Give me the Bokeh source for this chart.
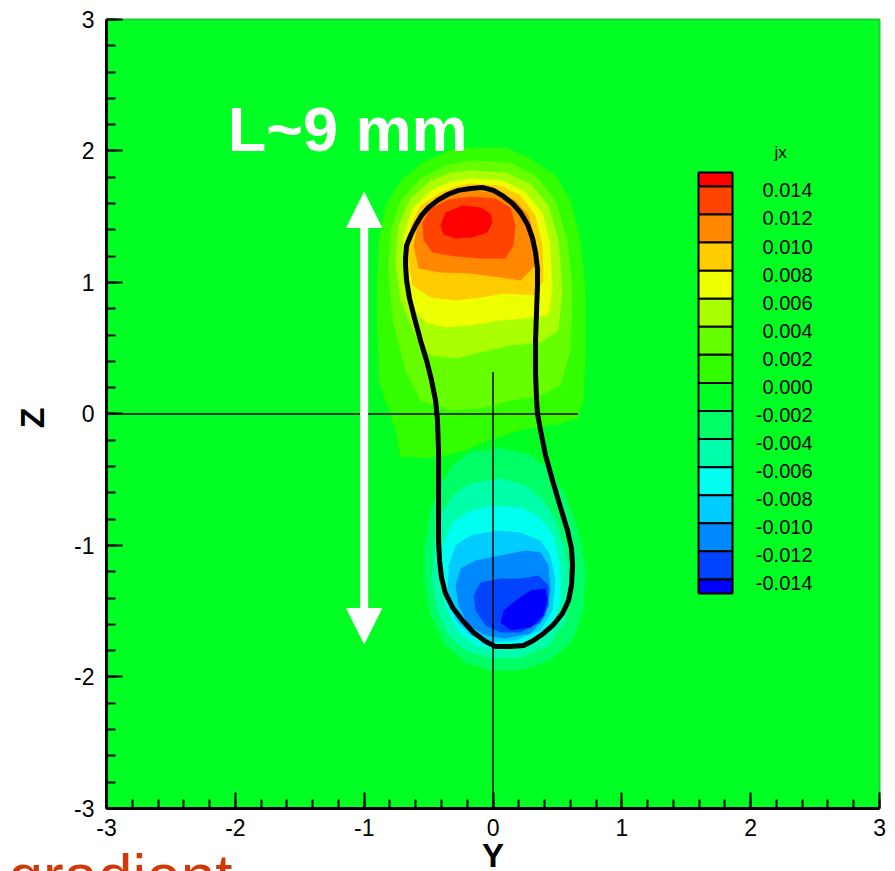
from bokeh.plotting import figure
from bokeh.models import Range1d, SingleIntervalTicker, Label, Arrow, NormalHead, PrintfTickFormatter
from bokeh.core.properties import value
from bokeh.embed import file_html
from bokeh.resources import INLINE

# ---------------- data ----------------
# contour levels of jx (colour-bar boundaries, top to bottom)
levels = [0.014, 0.012, 0.010, 0.008, 0.006, 0.004, 0.002, 0.000,
          -0.002, -0.004, -0.006, -0.008, -0.010, -0.012, -0.014]
level_labels = ["0.014", "0.012", "0.010", "0.008", "0.006", "0.004", "0.002", "0.000",
                "-0.002", "-0.004", "-0.006", "-0.008", "-0.010", "-0.012", "-0.014"]
# 16 colour bands, from "above 0.014" down to "below -0.014"
band_colors = ["#ff0000", "#ff4400", "#ff8800", "#ffcc00", "#eeff00", "#aaff00",
               "#66ff00", "#33ff00", "#00ff22", "#00ff66", "#00ffaa", "#00ffee",
               "#00ccff", "#0088ff", "#0044ff", "#0000ff"]

# axis extent and tick labels
axis_min, axis_max = -3, 3
x_label = "Y"
y_label = "Z"
cbar_title = "jx"

# regions where jx > level (upper lobe), levels 0.000 .. 0.014
pos_levels = [0.000, 0.002, 0.004, 0.006, 0.008, 0.010, 0.012, 0.014]
pos_y = [
    [-0.175, 0.097, 0.291, 0.485, 0.602, 0.679, 0.718, 0.718, 0.702, 0.656, 0.485, 0.213, -0.019, -0.252, -0.485, -0.718, -0.757, -0.889, -0.904, -0.889, -0.834, -0.718, -0.524, -0.330],
    [-0.175, 0.136, 0.330, 0.485, 0.578, 0.617, 0.602, 0.524, 0.369, 0.136, -0.097, -0.330, -0.563, -0.679, -0.780, -0.811, -0.796, -0.718, -0.563, -0.369],
    [-0.175, 0.097, 0.291, 0.431, 0.508, 0.539, 0.508, 0.369, 0.136, -0.097, -0.291, -0.485, -0.602, -0.718, -0.757, -0.733, -0.640, -0.485, -0.330],
    [-0.175, 0.082, 0.252, 0.384, 0.446, 0.462, 0.431, 0.252, 0.058, -0.175, -0.369, -0.524, -0.640, -0.695, -0.695, -0.625, -0.485, -0.330],
    [-0.175, 0.058, 0.213, 0.330, 0.384, 0.392, 0.330, 0.097, -0.097, -0.291, -0.485, -0.625, -0.664, -0.640, -0.563, -0.408, -0.291],
    [-0.175, 0.035, 0.175, 0.276, 0.330, 0.330, 0.213, 0.058, -0.175, -0.408, -0.578, -0.617, -0.578, -0.485, -0.345],
    [-0.175, 0.019, 0.136, 0.175, 0.159, 0.097, -0.097, -0.291, -0.470, -0.539, -0.547, -0.485, -0.345],
    [-0.237, -0.097, -0.019, -0.004, -0.043, -0.159, -0.291, -0.384, -0.408, -0.369],
]
pos_z = [
    [2.027, 2.027, 1.943, 1.814, 1.624, 1.319, 0.939, 0.483, 0.103, -0.034, -0.084, -0.122, -0.198, -0.289, -0.335, -0.327, -0.122, 0.255, 0.863, 1.319, 1.586, 1.776, 1.928, 2.004],
    [1.928, 1.913, 1.814, 1.624, 1.319, 0.939, 0.483, 0.217, 0.141, 0.103, 0.042, 0.027, 0.103, 0.331, 0.711, 1.091, 1.395, 1.624, 1.791, 1.890],
    [1.852, 1.837, 1.753, 1.586, 1.319, 0.939, 0.635, 0.544, 0.521, 0.468, 0.422, 0.445, 0.597, 0.863, 1.167, 1.433, 1.639, 1.776, 1.837],
    [1.791, 1.776, 1.684, 1.532, 1.281, 0.939, 0.749, 0.726, 0.711, 0.673, 0.658, 0.696, 0.825, 1.091, 1.357, 1.563, 1.700, 1.768],
    [1.753, 1.738, 1.662, 1.510, 1.281, 1.015, 0.901, 0.916, 0.886, 0.863, 0.886, 0.977, 1.205, 1.433, 1.586, 1.684, 1.730],
    [1.700, 1.684, 1.624, 1.510, 1.319, 1.129, 1.015, 1.038, 1.068, 1.076, 1.106, 1.281, 1.471, 1.586, 1.662],
    [1.654, 1.639, 1.570, 1.433, 1.281, 1.183, 1.183, 1.198, 1.228, 1.319, 1.456, 1.563, 1.631],
    [1.586, 1.570, 1.525, 1.456, 1.380, 1.342, 1.335, 1.365, 1.433, 1.532],
]

# regions where jx < level (lower lobe), levels -0.002 .. -0.014
neg_levels = [-0.002, -0.004, -0.006, -0.008, -0.010, -0.012, -0.014]
neg_y = [
    [-0.175, 0.058, 0.291, 0.446, 0.563, 0.664, 0.718, 0.702, 0.617, 0.446, 0.213, -0.019, -0.213, -0.369, -0.485, -0.532, -0.532, -0.485, -0.408, -0.314],
    [-0.175, 0.058, 0.252, 0.392, 0.485, 0.563, 0.602, 0.563, 0.431, 0.213, -0.019, -0.213, -0.345, -0.431, -0.470, -0.462, -0.408, -0.314],
    [-0.175, 0.019, 0.213, 0.369, 0.469, 0.524, 0.524, 0.462, 0.291, 0.058, -0.136, -0.276, -0.369, -0.408, -0.392, -0.314],
    [-0.175, 0.019, 0.213, 0.369, 0.446, 0.485, 0.462, 0.369, 0.175, -0.019, -0.175, -0.291, -0.353, -0.345, -0.291],
    [-0.136, 0.058, 0.252, 0.369, 0.431, 0.446, 0.408, 0.291, 0.097, -0.058, -0.190, -0.268, -0.291, -0.252],
    [-0.097, 0.058, 0.213, 0.353, 0.431, 0.431, 0.369, 0.213, 0.058, -0.058, -0.136, -0.151],
    [0.175, 0.291, 0.408, 0.423, 0.392, 0.291, 0.136, 0.058, 0.082],
]
neg_z = [
    [-0.289, -0.259, -0.312, -0.430, -0.620, -0.886, -1.190, -1.494, -1.722, -1.875, -1.951, -1.951, -1.890, -1.760, -1.532, -1.266, -1.000, -0.734, -0.544, -0.388],
    [-0.529, -0.490, -0.544, -0.658, -0.810, -1.038, -1.304, -1.570, -1.760, -1.852, -1.859, -1.798, -1.684, -1.494, -1.266, -1.000, -0.772, -0.620],
    [-0.734, -0.696, -0.711, -0.787, -0.924, -1.152, -1.418, -1.631, -1.760, -1.798, -1.760, -1.646, -1.456, -1.228, -1.000, -0.825],
    [-0.924, -0.886, -0.901, -0.962, -1.076, -1.266, -1.494, -1.646, -1.722, -1.737, -1.684, -1.570, -1.380, -1.152, -1.000],
    [-1.114, -1.076, -1.038, -1.053, -1.152, -1.342, -1.532, -1.669, -1.707, -1.684, -1.608, -1.456, -1.304, -1.175],
    [-1.281, -1.251, -1.251, -1.228, -1.304, -1.456, -1.586, -1.662, -1.662, -1.608, -1.494, -1.380],
    [-1.418, -1.342, -1.327, -1.418, -1.532, -1.624, -1.646, -1.586, -1.494],
]

# black outline of the object (Y, Z)
outline_y = [-0.679, -0.671, -0.640, -0.602, -0.555, -0.501, -0.431, -0.353, -0.268, -0.175,
             -0.082, 0.004, 0.082, 0.151, 0.213, 0.268, 0.307, 0.330, 0.345, 0.345,
             0.338, 0.330, 0.330, 0.338, 0.345, 0.369, 0.408, 0.462, 0.524, 0.578,
             0.609, 0.617, 0.609, 0.586, 0.539, 0.470, 0.392, 0.314, 0.237, 0.136,
             0.019, -0.058, -0.151, -0.237, -0.314, -0.369, -0.400, -0.415, -0.423, -0.423,
             -0.423, -0.431, -0.446, -0.477, -0.516, -0.563, -0.609, -0.648, -0.671, -0.679]
outline_z = [1.190, 1.281, 1.357, 1.433, 1.510, 1.570, 1.624, 1.669, 1.700, 1.715,
             1.722, 1.700, 1.654, 1.601, 1.532, 1.441, 1.335, 1.228, 1.106, 0.977,
             0.787, 0.559, 0.308, 0.103, 0.004, -0.125, -0.316, -0.506, -0.711, -0.886,
             -1.023, -1.152, -1.304, -1.418, -1.517, -1.601, -1.669, -1.722, -1.760, -1.768,
             -1.768, -1.730, -1.662, -1.570, -1.471, -1.365, -1.243, -1.114, -0.962, -0.658,
             -0.278, -0.049, 0.103, 0.255, 0.407, 0.559, 0.726, 0.878, 1.015, 1.129]

# thin reference cross lines
cross_h_y = [-3.0, 0.66]
cross_h_z = [0.0, 0.0]
cross_v_y = [0.0, 0.0]
cross_v_z = [0.32, -3.0]

# length arrow (Y position, Z of both tips)
arrow_y = -1.0
arrow_z = [1.684, -1.745]

# ---------------- figure ----------------
# the frame covers the whole canvas; the axes are pinned at -3 so texts outside the box stay visible
p = figure(width=895, height=871, output_backend="svg", toolbar_location=None,
           x_range=Range1d(-3.823, 3.124), y_range=Range1d(-3.479, 3.144),
           min_border_left=0, min_border_right=0, min_border_top=0, min_border_bottom=0)
p.background_fill_color = "white"
p.border_fill_color = "white"
p.outline_line_color = None
p.grid.visible = False

# plot box
p.quad(left=axis_min, right=axis_max, bottom=axis_min, top=axis_max,
       fill_color=band_colors[8], line_color="#22cc33", line_width=2)

for ax in (p.xaxis[0], p.yaxis[0]):
    ax.fixed_location = axis_min
    ax.bounds = (axis_min, axis_max)
    ax.ticker = SingleIntervalTicker(interval=1, num_minor_ticks=5)
    ax.formatter = PrintfTickFormatter(format="%d")
    ax.axis_line_width = 3
    ax.axis_line_color = "black"
    ax.major_tick_in = 16
    ax.major_tick_out = 0
    ax.minor_tick_in = 9
    ax.minor_tick_out = 0
    ax.major_tick_line_width = 2
    ax.minor_tick_line_width = 2
    ax.major_label_text_font = "Liberation Sans"
    ax.major_label_text_font_size = "23px"
    ax.major_label_text_color = "black"
p.xaxis.major_label_standoff = 10
p.yaxis.major_label_standoff = 12

# filled contour bands
pos_colors = [band_colors[levels.index(l)] for l in pos_levels]
neg_colors = [band_colors[levels.index(l) + 1] for l in neg_levels]
p.patches(xs=pos_y, ys=pos_z, fill_color=pos_colors, line_color=None)
p.patches(xs=neg_y, ys=neg_z, fill_color=neg_colors, line_color=None)

# object outline
p.patch(outline_y, outline_z, fill_alpha=0, line_color="black", line_width=5, line_join="round")

# cross lines
p.line(cross_h_y, cross_h_z, line_color="black", line_width=1.5)
p.line(cross_v_y, cross_v_z, line_color="black", line_width=1.5)

# double arrow
p.add_layout(Arrow(x_start=arrow_y, y_start=arrow_z[1], x_end=arrow_y, y_end=arrow_z[0],
                   line_color="white", line_width=8,
                   start=NormalHead(size=35, fill_color="white", line_color="white", line_width=1),
                   end=NormalHead(size=35, fill_color="white", line_color="white", line_width=1)))

# colour bar drawn in data space
cb_left, cb_right = 1.595, 1.859
cb_z0, cb_scale = 0.236, 106.7
cb_ends = [0.015] + levels + [-0.015]
cb_top = [cb_z0 + cb_scale * v for v in cb_ends[:-1]]
cb_bot = [cb_z0 + cb_scale * v for v in cb_ends[1:]]
p.quad(left=cb_left, right=cb_right, top=cb_top, bottom=cb_bot,
       fill_color=band_colors, line_color="black", line_width=2)
p.text(x=[2.48] * len(levels), y=[cb_z0 + cb_scale * v - 0.03 for v in levels], text=level_labels,
       text_align="right", text_baseline="middle", text_font=value("Liberation Sans"),
       text_font_size="20px", text_color="black")
p.add_layout(Label(x=2.232, y=1.99, text=cbar_title, text_align="center", text_baseline="middle",
                   text_font="Liberation Sans", text_font_size="17px", text_color="black"))

# annotation texts
p.add_layout(Label(x=-1.129, y=2.167, text="L~9 mm", text_align="center", text_baseline="middle",
                   text_font="Liberation Sans", text_font_style="bold", text_font_size="63px",
                   text_color="white"))
p.add_layout(Label(x=0.0, y=-3.354, text=x_label, text_align="center", text_baseline="middle",
                   text_font="Liberation Sans", text_font_style="bold", text_font_size="33px",
                   text_color="black"))
p.add_layout(Label(x=-3.582, y=-0.03, text=y_label, angle=1.5708, text_align="center",
                   text_baseline="middle", text_font="Liberation Sans", text_font_style="bold",
                   text_font_size="34px", text_color="black"))
p.add_layout(Label(x=-3.761, y=-3.51, text="gradient", text_align="left", text_baseline="middle",
                   text_font="Liberation Sans", text_font_size="62px", text_color="#d03a0a"))

open("out.html", "w").write(file_html(p, INLINE))
